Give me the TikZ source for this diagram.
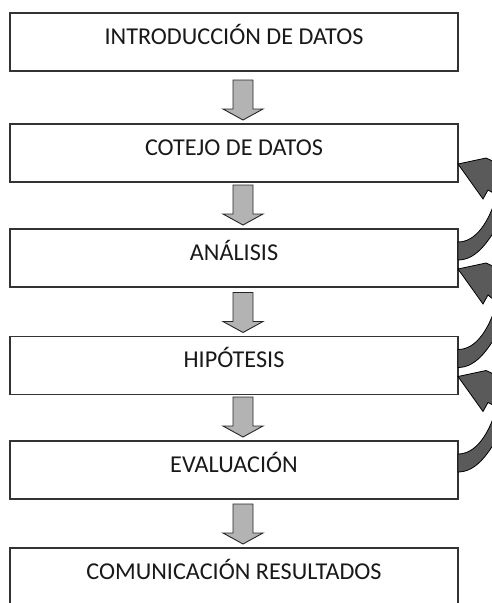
\documentclass[tikz,border=0pt]{standalone}
\usepackage{fontspec}
\setmainfont{Carlito}
\usetikzlibrary{calc}
\definecolor{boxline}{HTML}{333333}
\definecolor{lightarr}{HTML}{B3B3B3}
\definecolor{darkarr}{HTML}{5A5A5A}
\tikzset{
  stepbox/.style={draw=boxline, line width=1.2pt, fill=white, minimum width=448pt,
    minimum height=58pt, inner sep=0pt, outer sep=0pt, text height=31pt, text depth=27pt,
    font=\fontsize{24.2}{29}\selectfont, text=black!90},
  downarr/.style={fill=lightarr, draw=black!85, line width=0.9pt, line join=miter},
  backarr/.style={fill=darkarr, draw=black, line width=0.8pt, line join=miter},
}
\newcommand\blockdown[1]{%
  \draw[downarr] ($(#1.north)+(9,-4)$) -- ++(-20,-11) -- ++(10,0) -- ++(0,-29)
    -- ++(20,0) -- ++(0,29) -- ++(10,0) -- cycle;}
\newcommand\backarrow[2]{%
  \coordinate (T) at ($(#1.south east)+(0,-18)$);
  \coordinate (S) at (#2.north east);
  \draw[backarr] (T) -- ($(T)+(28,-6)$)
    .. controls ($(T)+(52,4)$) and ($(T)+(72,26)$) .. ($(T)+(62,51)$)
    -- ($(S)+(42,-7)$)
    .. controls ($(S)+(32,9)$) and ($(S)+(20,31)$) .. ($(S)+(0,31)$)
    -- ($(S)+(0,13)$)
    .. controls ($(S)+(18,13)$) and ($(S)+(31,-7)$) .. ($(S)+(39,-34)$)
    -- ($(T)+(30,26)$) -- ($(T)+(25,35)$) -- cycle;}
\begin{document}
\begin{tikzpicture}[x=1pt,y=-1pt]
\useasboundingbox (0,0) rectangle (492,603);
\clip (0,0) rectangle (492,603);
\node[stepbox] (b1) at (234,42) {INTRODUCCIÓN DE DATOS};
\node[stepbox] (b2) at (234,153) {COTEJO DE DATOS};
\node[stepbox] (b3) at (234,258) {ANÁLISIS};
\node[stepbox] (b4) at (234,365.5) {HIPÓTESIS};
\node[stepbox] (b5) at (234,470) {EVALUACIÓN};
\node[stepbox] (b6) at (234,577) {COMUNICACIÓN RESULTADOS};
\blockdown{b2}
\blockdown{b3}
\blockdown{b4}
\blockdown{b5}
\blockdown{b6}
\backarrow{b2}{b3}
\backarrow{b3}{b4}
\backarrow{b4}{b5}
\end{tikzpicture}
\end{document}
